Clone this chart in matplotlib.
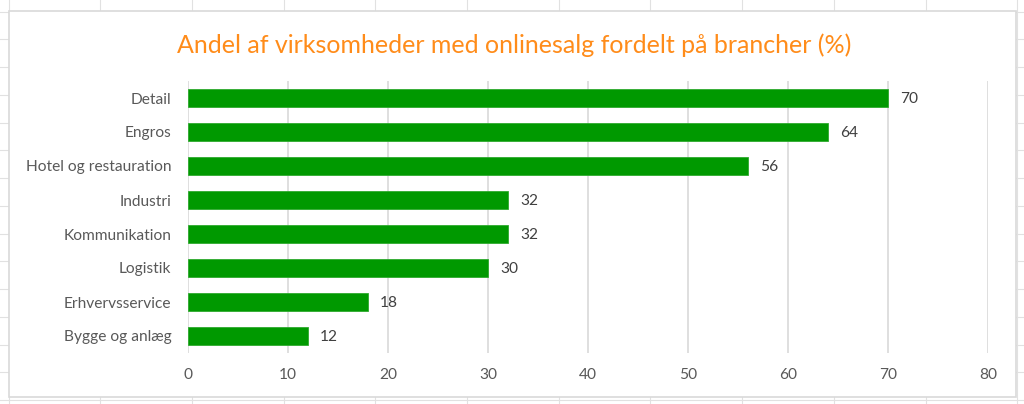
import matplotlib
matplotlib.use("Agg")
import matplotlib.pyplot as plt
from matplotlib.lines import Line2D
from matplotlib.patches import Rectangle

categories = ["Detail", "Engros", "Hotel og restauration", "Industri",
              "Kommunikation", "Logistik", "Erhvervsservice", "Bygge og anlæg"]
values = [70, 64, 56, 32, 32, 30, 18, 12]
xticks = [0, 10, 20, 30, 40, 50, 60, 70, 80]
title = "Andel af virksomheder med onlinesalg fordelt på brancher (%)"

W, H = 1024, 404
plt.rcParams['font.family'] = ['Lato', 'DejaVu Sans']
fig = plt.figure(figsize=(W / 100, H / 100), dpi=100)

def fx(x):
    return x / W

def fy(y):
    return 1 - y / H

# spreadsheet background grid
gcol = "#E1E1E1"
for k in range(15):
    y = 11.7 + 27.75 * k
    fig.add_artist(Line2D([0, 1], [fy(y), fy(y)], transform=fig.transFigure,
                          color=gcol, lw=0.8, zorder=0))
for k in range(12):
    x = 8.5 + 91.7 * k
    fig.add_artist(Line2D([fx(x), fx(x)], [0, 1], transform=fig.transFigure,
                          color=gcol, lw=0.8, zorder=0))

# chart box
fig.add_artist(Rectangle((fx(9), fy(397)), fx(1016) - fx(9), fy(11) - fy(397),
                         transform=fig.transFigure, facecolor="white",
                         edgecolor="#D9D9D9", lw=1.2, zorder=1))

ax = fig.add_axes([fx(188), fy(353), fx(988) - fx(188), fy(81) - fy(353)])
ax.set_zorder(2)
ax.patch.set_alpha(0)

ypos = list(range(len(categories)))
ax.barh(ypos, values, height=0.55, color="#009900", edgecolor="#2EAA2E",
        linewidth=0.6, zorder=3)
for y, v in zip(ypos, values):
    ax.text(v + 1.2, y + 0.04, str(v), va="center", ha="left", fontsize=11.2,
            color="#404040", zorder=4)

ax.set_xlim(0, 80)
ax.set_ylim(len(categories) - 0.5, -0.5)
ax.set_xticks(xticks)
ax.set_xticklabels([str(t) for t in xticks])
ax.set_yticks(ypos)
ax.set_yticklabels(categories)
ax.tick_params(axis="both", length=0, labelsize=11.2, labelcolor="#595959")
ax.tick_params(axis="x", pad=11)
ax.tick_params(axis="y", pad=12)
ax.grid(axis="x", color="#D9D9D9", lw=1.2, zorder=0)
ax.set_axisbelow(True)
for s in ax.spines.values():
    s.set_visible(False)

fig.text(0.502, fy(45), title, ha="center", va="center", fontsize=18,
         color="#FF8C1A", zorder=5)

fig.savefig("out.png", dpi=100)
